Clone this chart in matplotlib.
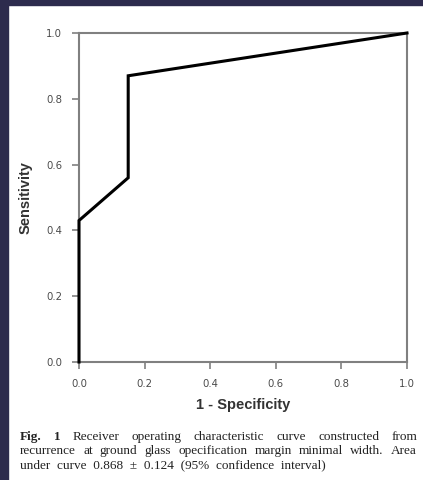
import matplotlib.pyplot as plt
from matplotlib.patches import Rectangle

# ROC curve points
fpr = [0.0, 0.0, 0.15, 0.15, 1.0]
tpr = [0.0, 0.43, 0.56, 0.87, 1.0]
ticks = [0.0, 0.2, 0.4, 0.6, 0.8, 1.0]
tick_labels = ['0.0', '0.2', '0.4', '0.6', '0.8', '1.0']

caption_lines = [
    ['Fig.', '1', 'Receiver', 'operating', 'characteristic', 'curve', 'constructed', 'from'],
    ['recurrence', 'at', 'ground', 'glass', 'opecification', 'margin', 'minimal', 'width.', 'Area'],
]
caption_last = 'under  curve  0.868  \u00b1  0.124  (95%  confidence  interval)'

W, H = 423, 480
fig = plt.figure(figsize=(W / 100, H / 100), dpi=100)
fig.patch.set_facecolor('white')

# dark frame on the left and top
fig.patches.append(Rectangle((0, 0), 8 / W, 1, transform=fig.transFigure,
                             color='#2d2b4d', zorder=0))
fig.patches.append(Rectangle((0, 1 - 5 / H), 1, 5 / H, transform=fig.transFigure,
                             color='#2d2b4d', zorder=0))

ax = fig.add_axes([79 / W, 1 - 362 / H, (407 - 79) / W, (362 - 33) / H])
ax.plot(fpr, tpr, color='black', lw=2.2, solid_joinstyle='miter', clip_on=False, zorder=5)
ax.set_xlim(0, 1)
ax.set_ylim(0, 1)
ax.set_xticks(ticks)
ax.set_yticks(ticks)
ax.set_xticklabels(tick_labels)
ax.set_yticklabels(tick_labels)
for s in ax.spines.values():
    s.set_color('#808080')
    s.set_linewidth(1.5)
ax.tick_params(length=5, width=1.2, color='#808080', labelsize=7.3,
               labelcolor='#4a4a4a')
ax.tick_params(axis='x', pad=7)
ax.tick_params(axis='y', pad=7)
ax.set_xlabel('1 - Specificity', fontsize=10.5, fontweight='bold', color='#333333',
              family='Liberation Sans', labelpad=7)
ax.set_ylabel('Sensitivity', fontsize=10.5, fontweight='bold', color='#333333',
              family='Liberation Sans', labelpad=10)

# justified caption
x0, x1 = 20, 417
ys = [440, 454, 468]
renderer = fig.canvas.get_renderer()
for li, words in enumerate(caption_lines):
    texts = []
    for wi, w in enumerate(words):
        bold = li == 0 and wi < 2
        t = fig.text(0, 1 - ys[li] / H, w, fontsize=9.5, family='Liberation Serif',
                     fontweight='bold' if bold else 'normal', color='#222222',
                     va='baseline', ha='left')
        texts.append(t)
    widths = [t.get_window_extent(renderer).width for t in texts]
    gap = (x1 - x0 - sum(widths)) / (len(words) - 1)
    x = x0
    for t, w in zip(texts, widths):
        t.set_x(x / W)
        x += w + gap
fig.text(x0 / W, 1 - ys[2] / H, caption_last, fontsize=9.5, family='Liberation Serif',
         color='#222222', va='baseline', ha='left')

fig.savefig('out.png', dpi=100)
